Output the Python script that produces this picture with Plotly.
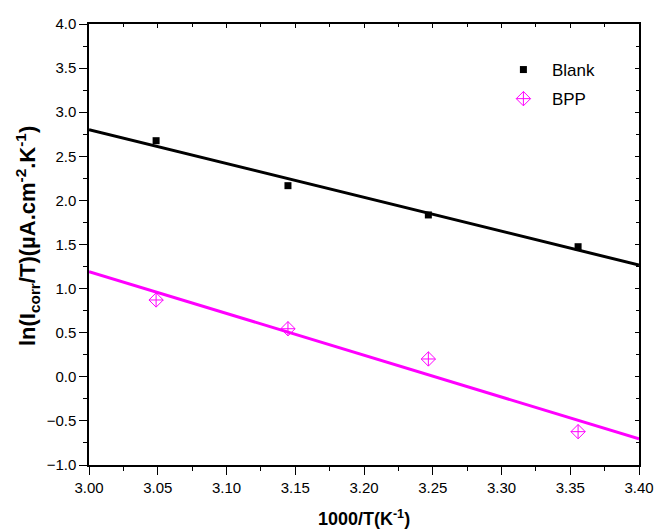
import numpy as np
import plotly.graph_objects as go

# Data
x_blank = [3.0488, 3.1447, 3.2468, 3.3557]
y_blank = [2.677, 2.167, 1.835, 1.475]
x_bpp = [3.0488, 3.1447, 3.2468, 3.3557]
y_bpp = [0.871, 0.545, 0.202, -0.622]
fit_range = [3.00, 3.40]

FONT = "Liberation Sans, Arial, sans-serif"
MAGENTA = "#FF00FF"

def fit_line(xs, ys):
    k, b = np.polyfit(xs, ys, 1)
    xx = np.array(fit_range)
    return xx, k * xx + b

fig = go.Figure()

fx, fy = fit_line(x_blank, y_blank)
fig.add_trace(go.Scatter(x=fx, y=fy, mode="lines", line=dict(color="black", width=3),
                         showlegend=False, hoverinfo="skip"))
fx2, fy2 = fit_line(x_bpp, y_bpp)
fig.add_trace(go.Scatter(x=fx2, y=fy2, mode="lines", line=dict(color=MAGENTA, width=3),
                         showlegend=False, hoverinfo="skip"))

fig.add_trace(go.Scatter(x=x_blank, y=y_blank, mode="markers", name="Blank", legendgroup="a",
                         marker=dict(symbol="square", size=7, color="black")))
fig.add_trace(go.Scatter(x=x_bpp, y=y_bpp, mode="markers", name="BPP", legendgroup="b",
                         marker=dict(symbol="diamond-cross-open", size=11, color=MAGENTA,
                                     line=dict(color=MAGENTA, width=1))))

# dummy trace for mirrored axes (top/right, inward ticks)
fig.add_trace(go.Scatter(x=[None], y=[None], xaxis="x2", yaxis="y2", showlegend=False,
                         hoverinfo="skip"))

axis_common = dict(showgrid=False, zeroline=False, showline=True, linecolor="black",
                   linewidth=1.5, tickcolor="black", tickwidth=1.2, automargin=False)
tickfont = dict(family=FONT, size=15, color="black")

fig.update_layout(
    width=656, height=531,
    paper_bgcolor="white", plot_bgcolor="white",
    margin=dict(l=89, r=17, t=24, b=66, autoexpand=False),
    font=dict(family=FONT, color="black"),
    xaxis=dict(range=[3.0, 3.4], dtick=0.05, tick0=3.0, tickformat=".2f",
               ticks="outside", ticklen=8, tickfont=tickfont,
               minor=dict(dtick=0.025, tick0=3.0, ticks="outside", ticklen=4,
                          tickcolor="black", tickwidth=1.2),
               title=dict(text="<b>1000/T(K<sup>-1</sup>)</b>",
                          font=dict(family=FONT, size=18, color="black"), standoff=18),
               **axis_common),
    yaxis=dict(range=[-1.0, 4.0], dtick=0.5, tick0=0, tickformat=".1f",
               ticks="outside", ticklen=8, tickfont=tickfont,
               minor=dict(dtick=0.25, tick0=0, ticks="outside", ticklen=4,
                          tickcolor="black", tickwidth=1.2),
               **axis_common),
    xaxis2=dict(range=[3.0, 3.4], overlaying="x", side="top", showticklabels=False,
                dtick=0.05, tick0=3.0, ticks="inside", ticklen=4,
                minor=dict(dtick=0.025, tick0=3.0, ticks="inside", ticklen=3,
                           tickcolor="black", tickwidth=1.2),
                **axis_common),
    yaxis2=dict(range=[-1.0, 4.0], overlaying="y", side="right", showticklabels=False,
                dtick=0.5, tick0=0, ticks="inside", ticklen=4,
                minor=dict(dtick=0.25, tick0=0, ticks="inside", ticklen=3,
                           tickcolor="black", tickwidth=1.2),
                **axis_common),
    legend=dict(x=0.738, y=0.9365, xanchor="left", yanchor="top",
                bgcolor="rgba(0,0,0,0)", borderwidth=0,
                font=dict(family=FONT, size=17, color="black"),
                itemwidth=47, tracegroupgap=4),
    showlegend=True,
    annotations=[dict(
        text="<b>ln(I<sub>corr</sub>/T)(µA.cm<sup>-2</sup>.K<sup>-1</sup>)</b>",
        textangle=-90, xref="paper", yref="paper", x=-0.112, y=0.52,
        xanchor="center", yanchor="middle", showarrow=False,
        font=dict(family=FONT, size=22, color="black"))],
)

fig.write_html("out.html", config={"displayModeBar": False},
               post_script="document.body.style.margin='0';document.body.style.padding='0';")
